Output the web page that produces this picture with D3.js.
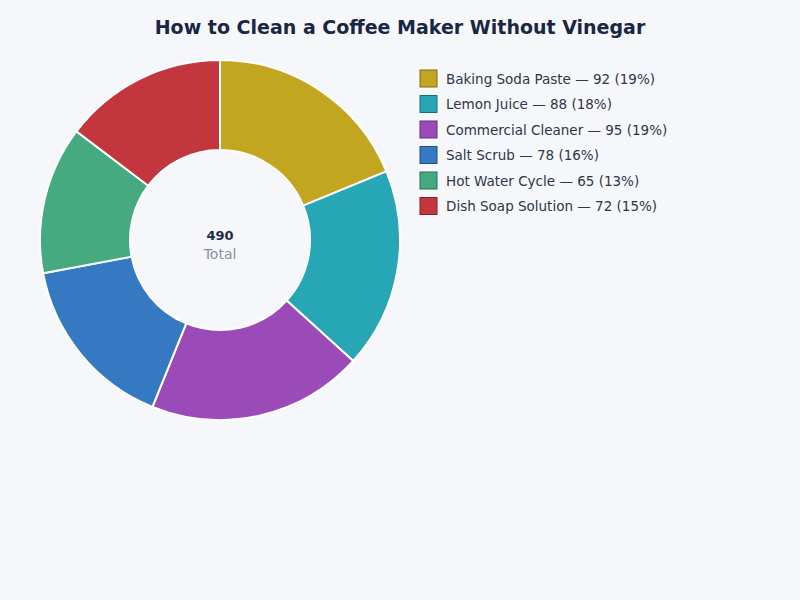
<!DOCTYPE html>
<html><head><meta charset="utf-8">
<script src="https://cdn.jsdelivr.net/npm/d3@7"></script>
<style>body{margin:0;background:#f5f7fb;}svg{display:block;font-family:"DejaVu Sans",sans-serif;}</style>
</head><body>
<svg id="c" width="800" height="600"></svg>
<script>
const categories = ["Baking Soda Paste","Lemon Juice","Commercial Cleaner","Salt Scrub","Hot Water Cycle","Dish Soap Solution"];
const values = [92,88,95,78,65,72];
const colors = ["#c2a61f","#27a6b5","#9b4bb8","#3479c1","#45aa80","#c4363e"];

const svg = d3.select("#c");
svg.append("rect").attr("width",800).attr("height",600).attr("fill","#f5f7fb");
svg.append("text").attr("x",400).attr("y",34).attr("text-anchor","middle")
  .attr("font-size",19).attr("font-weight","bold").attr("fill","#1a2642")
  .text("How to Clean a Coffee Maker Without Vinegar");

const total = d3.sum(values);
const data = categories.map((c,i)=>({c,v:values[i],col:colors[i]}));
const pie = d3.pie().value(d=>d.v).sort(null);
const arc = d3.arc().innerRadius(90).outerRadius(180);
const g = svg.append("g").attr("transform","translate(220,240)");
g.selectAll("path").data(pie(data)).join("path")
  .attr("d",arc).attr("fill",d=>d.data.col).attr("stroke","#ffffff").attr("stroke-width",2);
g.append("text").attr("y",0).attr("text-anchor","middle").attr("font-size",13).attr("font-weight","bold")
  .attr("fill","#1f2a44").text(total);
g.append("text").attr("y",19).attr("text-anchor","middle").attr("font-size",14)
  .attr("fill","#8a90a0").text("Total");

const lg = svg.append("g").attr("transform","translate(420,70)");
const row = lg.selectAll("g").data(data).join("g").attr("transform",(d,i)=>`translate(0,${i*25.5})`);
row.append("rect").attr("width",17).attr("height",17).attr("fill",d=>d.col)
  .attr("stroke",d=>d3.color(d.col).darker(1.2)).attr("stroke-width",1);
row.append("text").attr("x",26).attr("y",13.5).attr("font-size",13.5).attr("fill","#2e3648")
  .text(d=>`${d.c} — ${d.v} (${Math.round(d.v/total*100)}%)`);
</script>
</body></html>
